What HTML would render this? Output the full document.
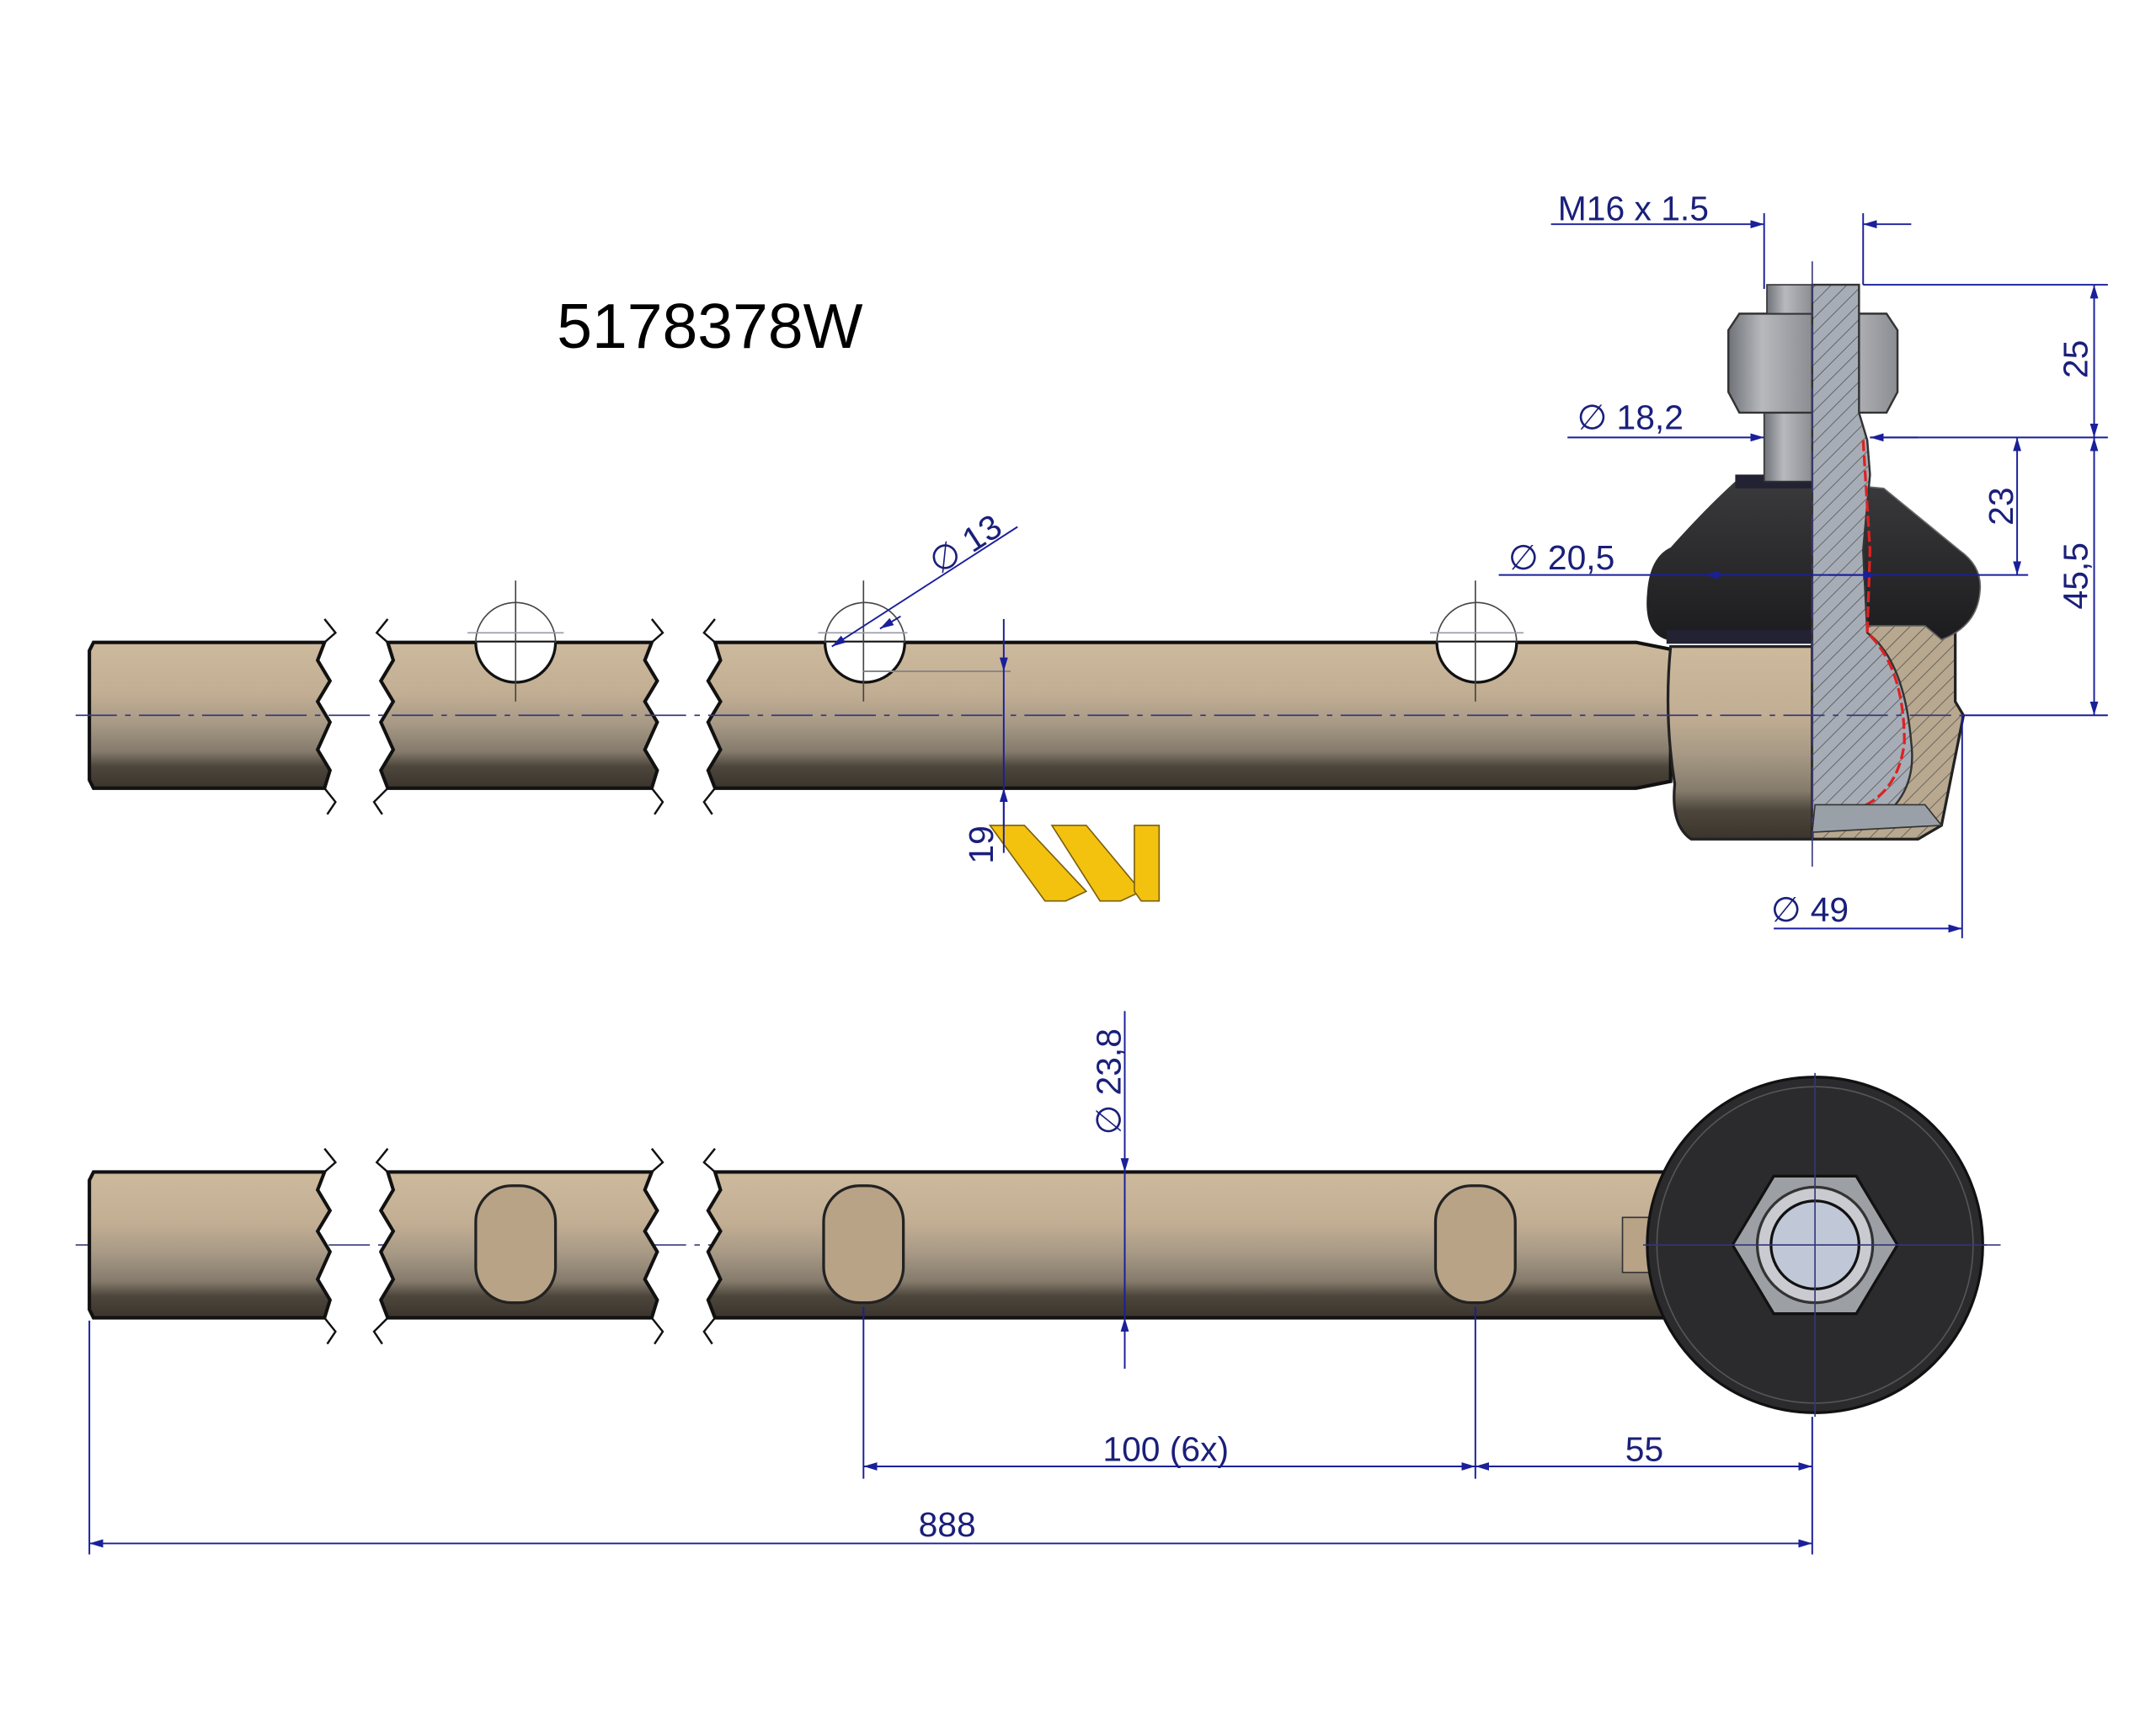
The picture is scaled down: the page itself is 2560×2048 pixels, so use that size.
<!DOCTYPE html>
<html><head><meta charset="utf-8"><style>
html,body{margin:0;padding:0;background:#fff;}
svg{display:block;}
text{font-family:"Liberation Sans",sans-serif;fill:#1a1f7a;}
</style></head><body>
<svg width="2560" height="2048" viewBox="0 0 1568 1254" preserveAspectRatio="none" xmlns="http://www.w3.org/2000/svg">
<defs>
<linearGradient id="rod" x1="0" y1="0" x2="0" y2="1">
<stop offset="0" stop-color="#cdb99c"/><stop offset="0.35" stop-color="#c2ae93"/><stop offset="0.55" stop-color="#a89a86"/><stop offset="0.75" stop-color="#857b6c"/><stop offset="0.85" stop-color="#4d463c"/><stop offset="1" stop-color="#3a342c"/>
</linearGradient>
<linearGradient id="boot" x1="0" y1="0" x2="0" y2="1">
<stop offset="0" stop-color="#3a3a3c"/><stop offset="1" stop-color="#1c1c1e"/>
</linearGradient>
<linearGradient id="nut" x1="0" y1="0" x2="1" y2="0">
<stop offset="0" stop-color="#6f7278"/><stop offset="0.4" stop-color="#b7b9bd"/><stop offset="1" stop-color="#8b8d92"/>
</linearGradient>
<pattern id="hatch" width="8" height="8" patternUnits="userSpaceOnUse" patternTransform="rotate(45)">
<rect width="8" height="8" fill="#a7adb6"/><line x1="0" y1="0" x2="0" y2="8" stroke="#555" stroke-width="1"/>
</pattern>
<pattern id="hatch2" width="8" height="8" patternUnits="userSpaceOnUse" patternTransform="rotate(45)">
<rect width="8" height="8" fill="#b8a88f"/><line x1="0" y1="0" x2="0" y2="8" stroke="#555" stroke-width="1"/>
</pattern>
<marker id="ar" markerWidth="10" markerHeight="6" refX="10" refY="3" orient="auto" markerUnits="userSpaceOnUse"><path d="M0,0 L10,3 L0,6z" fill="#1a1f9a"/></marker>
<marker id="al" markerWidth="10" markerHeight="6" refX="0" refY="3" orient="auto" markerUnits="userSpaceOnUse"><path d="M10,0 L0,3 L10,6z" fill="#1a1f9a"/></marker>
</defs>

<text x="405" y="253" font-size="46" style="fill:#000">5178378W</text>

<g stroke="#111" stroke-width="2.5">
<path d="M68,467 L236,467 L231,480 L240,495 L231,510 L240,525 L231,545 L240,560 L236,573 L68,573 L65,567 L65,473z" fill="url(#rod)"/>
<path d="M282,467 L474,467 L469,480 L478,495 L469,510 L478,525 L469,545 L478,560 L474,573 L282,573 L277,560 L286,545 L277,525 L286,510 L277,495 L286,480z" fill="url(#rod)"/>
<path d="M520,467 L1190,467 L1215,472 L1215,568 L1190,573 L520,573 L515,560 L524,545 L515,525 L524,510 L515,495 L524,480z" fill="url(#rod)"/>
</g>
<g fill="#fff" stroke="#111" stroke-width="2">
<path d="M346,467 A29,29 0 0 0 404,467"/><path d="M600,467 A29,29 0 0 0 658,467"/><path d="M1045,467 A29,29 0 0 0 1103,467"/>
</g>
<g fill="none" stroke="#444" stroke-width="1">
<path d="M346,467 A29,29 0 0 1 404,467"/><path d="M600,467 A29,29 0 0 1 658,467"/><path d="M1045,467 A29,29 0 0 1 1103,467"/>
<line x1="375" y1="422" x2="375" y2="510"/><line x1="628" y1="422" x2="628" y2="510"/><line x1="1073" y1="422" x2="1073" y2="510"/>
<line x1="340" y1="460" x2="410" y2="460" stroke="#99a"/><line x1="595" y1="460" x2="660" y2="460" stroke="#99a"/><line x1="1040" y1="460" x2="1108" y2="460" stroke="#99a"/>
</g>
<g fill="none" stroke="#111" stroke-width="1.5">
<path d="M236,450 L244,460 L236,467"/><path d="M236,573 L244,583 L238,592"/>
<path d="M282,450 L274,460 L282,467"/><path d="M282,573 L272,583 L278,592"/>
<path d="M474,450 L482,460 L474,467"/><path d="M474,573 L482,583 L476,592"/>
<path d="M520,450 L512,460 L520,467"/><path d="M520,573 L512,583 L518,592"/>
</g>

<path d="M1215,470 L1318,470 L1318,610 L1230,610 Q1215,600 1218,570 Q1210,520 1215,470z" fill="url(#rod)" stroke="#222" stroke-width="2"/>
<path d="M1318,465 L1400,445 L1422,460 L1422,510 L1428,520 L1420,560 L1412,600 L1395,610 L1318,610z" fill="url(#hatch2)" stroke="#222" stroke-width="2"/>
<path d="M1262,350 L1318,350 L1318,465 L1212,465 Q1195,460 1198,430 Q1200,405 1215,398 Q1240,370 1262,350z" fill="url(#boot)"/>
<path d="M1318,350 L1370,355 L1425,400 Q1442,412 1440,430 Q1438,455 1412,465 L1400,455 L1318,455z" fill="url(#boot)" stroke="#666" stroke-width="1"/>
<rect x="1262" y="345" width="58" height="10" fill="#223"/>
<rect x="1212" y="458" width="106" height="10" fill="#223"/>
<rect x="1283" y="300" width="35" height="50" fill="url(#nut)" stroke="#333"/>
<path d="M1265,228 L1318,228 L1318,300 L1265,300 L1257,285 L1257,240z" fill="url(#nut)" stroke="#333" stroke-width="1.5"/>
<path d="M1318,228 L1372,228 L1380,240 L1380,285 L1372,300 L1318,300z" fill="url(#nut)" stroke="#333" stroke-width="1.5"/>
<rect x="1285" y="207" width="33" height="21" fill="url(#nut)" stroke="#333"/>
<path d="M1318,207 L1352,207 L1352,300 L1358,320 L1360,345 L1355,400 L1358,460 Q1385,480 1390,540 Q1395,580 1360,600 L1318,600z" fill="url(#hatch)" stroke="#333" stroke-width="1.5"/>
<path d="M1355,320 L1360,400 L1358,460 Q1385,485 1385,540 Q1380,580 1345,590" fill="none" stroke="#d22" stroke-width="2" stroke-dasharray="8,3"/>
<path d="M1320,585 L1400,585 L1412,600 L1318,605z" fill="#9aa0a8" stroke="#333"/>

<g stroke="#3a3a7a" stroke-width="1" stroke-dasharray="30,6,4,6" fill="none">
<line x1="55" y1="520" x2="1430" y2="520"/>
<line x1="1318" y1="190" x2="1318" y2="630"/>
<line x1="55" y1="905" x2="1455" y2="905"/>
</g>

<g stroke="#111" stroke-width="2.5">
<path d="M68,852 L236,852 L231,865 L240,880 L231,895 L240,910 L231,930 L240,945 L236,958 L68,958 L65,952 L65,858z" fill="url(#rod)"/>
<path d="M282,852 L474,852 L469,865 L478,880 L469,895 L478,910 L469,930 L478,945 L474,958 L282,958 L277,945 L286,930 L277,910 L286,895 L277,880 L286,865z" fill="url(#rod)"/>
<path d="M520,852 L1230,852 L1230,958 L520,958 L515,945 L524,930 L515,910 L524,895 L515,880 L524,865z" fill="url(#rod)"/>
</g>
<g fill="none" stroke="#111" stroke-width="1.5">
<path d="M236,835 L244,845 L236,852"/><path d="M236,958 L244,968 L238,977"/>
<path d="M282,835 L274,845 L282,852"/><path d="M282,958 L272,968 L278,977"/>
<path d="M474,835 L482,845 L474,852"/><path d="M474,958 L482,968 L476,977"/>
<path d="M520,835 L512,845 L520,852"/><path d="M520,958 L512,968 L518,977"/>
</g>
<g fill="#b8a387" stroke="#222" stroke-width="2">
<rect x="346" y="862" width="58" height="85" rx="26"/><rect x="599" y="862" width="58" height="85" rx="26"/><rect x="1044" y="862" width="58" height="85" rx="26"/>
</g>
<rect x="1180" y="885" width="20" height="40" fill="#b8a387" stroke="#333"/>
<circle cx="1320" cy="905" r="122" fill="#2b2b2d" stroke="#111" stroke-width="2"/>
<circle cx="1320" cy="905" r="115" fill="none" stroke="#555" stroke-width="1"/>
<path d="M1290,855 L1350,855 L1380,905 L1350,955 L1290,955 L1260,905z" fill="#9c9fa4" stroke="#111" stroke-width="2"/>
<circle cx="1320" cy="905" r="42" fill="#c9cbd0" stroke="#333" stroke-width="2"/>
<circle cx="1320" cy="905" r="32" fill="#c0c8d8" stroke="#111" stroke-width="2"/>
<g stroke="#33367a" stroke-width="1">
<line x1="1320" y1="780" x2="1320" y2="1030"/><line x1="1195" y1="905" x2="1445" y2="905"/>
</g>

<g fill="#f3c20f" stroke="#7a6010" stroke-width="1">
<path d="M720,600 L745,600 L790,648 L775,655 L760,655z"/>
<path d="M765,600 L790,600 L830,648 L815,655 L800,655z"/>
<path d="M825,600 L843,600 L843,655 L830,655 L825,648z"/>
</g>

<g stroke="#1a1f9a" stroke-width="1.2" fill="none">
<line x1="1283" y1="155" x2="1283" y2="210"/><line x1="1355" y1="155" x2="1355" y2="207"/>
<line x1="1128" y1="163" x2="1283" y2="163" marker-end="url(#ar)"/>
<line x1="1390" y1="163" x2="1355" y2="163" marker-end="url(#ar)"/>
<line x1="1355" y1="207" x2="1533" y2="207"/>
<line x1="1523" y1="207" x2="1523" y2="318" marker-start="url(#al)" marker-end="url(#ar)"/>
<line x1="1523" y1="318" x2="1523" y2="520" marker-start="url(#al)" marker-end="url(#ar)"/>
<line x1="1428" y1="520" x2="1533" y2="520"/>
<line x1="1140" y1="318" x2="1283" y2="318" marker-end="url(#ar)"/>
<line x1="1395" y1="318" x2="1360" y2="318" marker-end="url(#ar)"/>
<line x1="1360" y1="318" x2="1533" y2="318"/>
<line x1="1467" y1="318" x2="1467" y2="418" marker-start="url(#al)" marker-end="url(#ar)"/>
<line x1="1090" y1="418" x2="1475" y2="418"/>
<line x1="1240" y1="418" x2="1280" y2="418" marker-start="url(#al)"/>
<line x1="1330" y1="418" x2="1365" y2="418" marker-end="url(#ar)"/>
<line x1="1427" y1="520" x2="1427" y2="682"/>
<line x1="1290" y1="675" x2="1427" y2="675" marker-end="url(#ar)"/>
<line x1="605" y1="470" x2="740" y2="383" marker-start="url(#al)"/>
<line x1="655" y1="448" x2="640" y2="457" marker-end="url(#ar)"/>
<line x1="628" y1="488" x2="735" y2="488" stroke="#888"/>
<line x1="730" y1="450" x2="730" y2="488" marker-end="url(#ar)"/>
<line x1="730" y1="488" x2="730" y2="600"/>
<line x1="730" y1="620" x2="730" y2="573" marker-end="url(#ar)"/>
<line x1="818" y1="735" x2="818" y2="852" marker-end="url(#ar)"/>
<line x1="818" y1="852" x2="818" y2="958"/>
<line x1="818" y1="995" x2="818" y2="958" marker-end="url(#ar)"/>
<line x1="65" y1="960" x2="65" y2="1130"/>
<line x1="628" y1="950" x2="628" y2="1075"/>
<line x1="1073" y1="950" x2="1073" y2="1075"/>
<line x1="1318" y1="1030" x2="1318" y2="1130"/>
<line x1="628" y1="1066" x2="1073" y2="1066" marker-start="url(#al)" marker-end="url(#ar)"/>
<line x1="1073" y1="1066" x2="1318" y2="1066" marker-start="url(#al)" marker-end="url(#ar)"/>
<line x1="65" y1="1122" x2="1318" y2="1122" marker-start="url(#al)" marker-end="url(#ar)"/>
</g>

<g font-size="25">
<text x="1133" y="160">M16 x 1.5</text>
<text x="1147" y="312">∅  18,2</text>
<text x="1097" y="414">∅  20,5</text>
<text x="1288" y="670">∅  49</text>
<text x="802" y="1062">100  (6x)</text>
<text x="1182" y="1062">55</text>
<text x="668" y="1117">888</text>
<text transform="translate(1518,275) rotate(-90)">25</text>
<text transform="translate(1518,443) rotate(-90)">45,5</text>
<text transform="translate(1464,382) rotate(-90)">23</text>
<text transform="translate(722,628) rotate(-90)">19</text>
<text transform="translate(815,825) rotate(-90)">∅ 23,8</text>
<text transform="translate(683,418) rotate(-33)">∅ 13</text>
</g>
</svg>
</body></html>
